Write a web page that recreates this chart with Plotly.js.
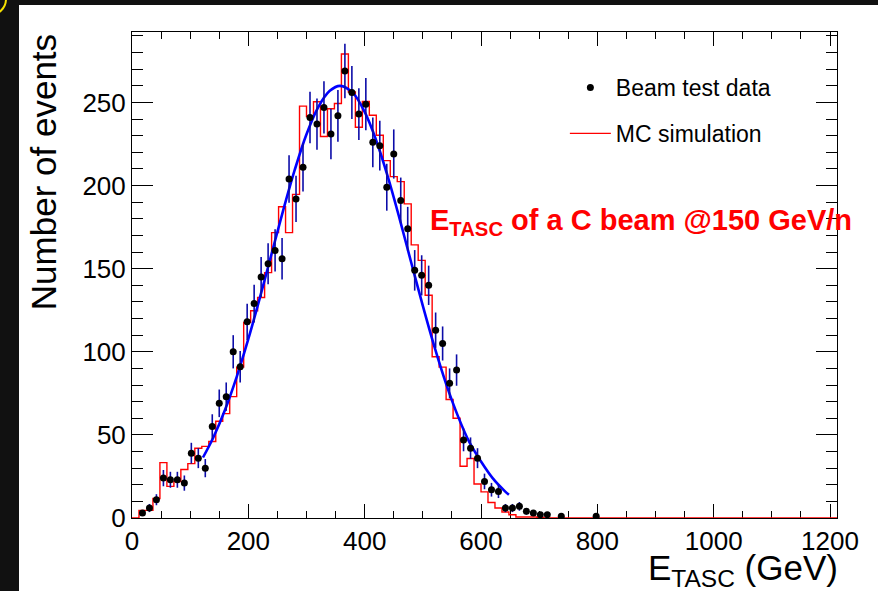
<!DOCTYPE html>
<html>
<head>
<meta charset="utf-8">
<script src="https://cdn.plot.ly/plotly-3.0.1.min.js"></script>
<style>
  html, body { margin: 0; padding: 0; background: #111111; width: 878px; height: 591px; overflow: hidden; }
  #chart { position: absolute; left: 19px; top: 5px; width: 859px; height: 586px; background: #ffffff; }
  #ring { position: absolute; left: -27px; top: -18px; width: 30px; height: 30px; border: 2px solid #f5e000; border-radius: 50%; }
</style>
</head>
<body>
<div id="ring"></div>
<div id="chart"></div>
<script>
// Beam test data: bin centres (GeV) and counts
const dataX = [18, 30, 42, 54, 66, 78, 90, 102, 114, 126, 138, 150, 162, 174, 186, 198, 210,
  222, 234, 246, 258, 270, 282, 294, 306, 318, 330, 342, 354, 366, 378, 390, 402, 414, 426,
  438, 450, 462, 474, 486, 498, 510, 522, 534, 546, 558, 570, 582, 594, 606, 618, 630, 642,
  654, 666, 678, 690, 702, 714, 738, 798];
const dataY = [3, 6, 11, 24, 23, 23, 21, 39, 36, 30, 55, 69, 73, 100, 91, 118, 129,
  145, 153, 161, 156, 204, 192, 211, 241, 237, 247, 231, 242, 269, 256, 243, 249, 226, 224,
  199, 219, 191, 174, 149, 146, 140, 113, 105, 81, 89, 47, 42, 36, 22, 17, 16, 6,
  6, 7, 4, 3, 2, 2, 1, 1];

// MC simulation: histogram with 12 GeV bins starting at 0 GeV
const mcBinWidth = 12;
const mcCounts = [0, 4.6, 4.6, 11.7, 33.3, 19, 22, 29.2, 32.7, 42, 43.1, 46, 58.2, 62.8, 73,
  90.8, 117.7, 124.7, 132.7, 147.6, 171.7, 187.3, 171.7, 194.7, 247.8, 241.6, 250.4, 229.5,
  246.2, 249.4, 279.2, 256.3, 235.1, 250.6, 242.3, 230.3, 215, 205.4, 202.4, 189, 164.3,
  155, 134, 97, 90.8, 71.3, 60, 31.1, 35.8, 20.5, 15.7, 9.3, 6, 3.6, 2, 0.6, 0.6, 0.6, 0.3, 0];
const mcNBins = 101;

// Gaussian fit curve
const fitX = [122, 140, 160, 180, 200, 220, 240, 260, 280, 300, 320, 340, 358, 380, 400, 420,
  440, 460, 480, 500, 520, 540, 560, 580, 600, 620, 640, 648];
const fitY = [36.4, 48.6, 65.1, 84.9, 107.7, 132.7, 159, 185.2, 209.7, 230.9, 247.1, 257, 260,
  255.6, 244.3, 227, 205.1, 180.1, 153.7, 127.6, 102.9, 80.7, 61.6, 45.6, 34, 24, 16.5, 14];

const legendLabels = ['Beam test data', 'MC simulation'];
const xTitle = 'E<sub>TASC</sub> (GeV)';
const yTitle = 'Number of events';
const beamLabel = '<b>E<sub>TASC</sub> of a C beam @150 GeV/n</b>';

// build the step outline from the bin list
const mcX = [], mcY = [];
for (let i = 0; i < mcNBins; i++) {
  mcX.push(i * mcBinWidth);
  mcY.push(i < mcCounts.length ? mcCounts[i] : 0);
}
mcX.push(mcNBins * mcBinWidth);
mcY.push(mcY[mcY.length - 1]);

const FONT = 'Liberation Sans, Arial, Helvetica, sans-serif';

const traces = [
  {
    x: mcX, y: mcY, type: 'scatter', mode: 'lines', name: legendLabels[1],
    line: { shape: 'hv', color: '#ff0000', width: 1.4 },
    legendgroup: 'mc', legendrank: 2, hoverinfo: 'skip'
  },
  {
    x: fitX, y: fitY, type: 'scatter', mode: 'lines', showlegend: false,
    line: { shape: 'spline', color: '#0000ff', width: 2.6 }, hoverinfo: 'skip'
  },
  {
    x: dataX, y: dataY, type: 'scatter', mode: 'markers', name: legendLabels[0],
    marker: { color: '#000000', size: 7, symbol: 'circle' },
    error_y: { type: 'sqrt', visible: true, color: '#0c0ca8', thickness: 1.6, width: 0 },
    legendgroup: 'data', legendrank: 1, hoverinfo: 'skip'
  }
];

const layout = {
  width: 859, height: 586,
  margin: { l: 113, r: 41, t: 27, b: 73, pad: 0 },
  paper_bgcolor: '#ffffff', plot_bgcolor: '#ffffff',
  font: { family: FONT, color: '#000000', size: 22 },
  showlegend: true,
  legend: {
    x: 0.614, y: 0.93, xanchor: 'left', yanchor: 'top',
    bgcolor: 'rgba(0,0,0,0)', borderwidth: 0,
    font: { family: FONT, size: 23, color: '#000000' },
    traceorder: 'grouped', tracegroupgap: 13, itemwidth: 41
  },
  xaxis: {
    range: [0, 1212], showline: true, linecolor: '#000000', linewidth: 1, mirror: 'ticks',
    ticks: 'inside', ticklen: 14, tickwidth: 1, tickcolor: '#000000',
    tick0: 0, dtick: 200, showgrid: false, zeroline: false,
    tickfont: { family: FONT, size: 26, color: '#000000' },
    minor: { dtick: 50, ticks: 'inside', ticklen: 7, tickwidth: 1, tickcolor: '#000000', showgrid: false },
    layer: 'below traces', fixedrange: true
  },
  yaxis: {
    range: [0, 292.4], showline: true, linecolor: '#000000', linewidth: 1, mirror: 'ticks',
    ticks: 'inside', ticklen: 21, tickwidth: 1, tickcolor: '#000000',
    tick0: 0, dtick: 50, showgrid: false, zeroline: false,
    tickfont: { family: FONT, size: 26, color: '#000000' },
    minor: { dtick: 10, ticks: 'inside', ticklen: 11, tickwidth: 1, tickcolor: '#000000', showgrid: false },
    layer: 'below traces', fixedrange: true
  },
  annotations: [
    {
      text: yTitle, textangle: -90, xref: 'paper', yref: 'paper',
      x: -0.126, y: 1.0, xanchor: 'center', yanchor: 'top', showarrow: false,
      font: { family: FONT, size: 35, color: '#000000' }
    },
    {
      text: xTitle, xref: 'paper', yref: 'paper',
      x: 1.004, y: -0.058, xanchor: 'right', yanchor: 'top', showarrow: false,
      font: { family: FONT, size: 35, color: '#000000' }
    },
    {
      text: beamLabel, xref: 'paper', yref: 'paper',
      x: 0.42, y: 0.65, xanchor: 'left', yanchor: 'top', showarrow: false,
      font: { family: FONT, size: 29, color: '#ff0000' }
    }
  ]
};

Plotly.newPlot('chart', traces, layout, { displayModeBar: false, staticPlot: true });
</script>
</body>
</html>
